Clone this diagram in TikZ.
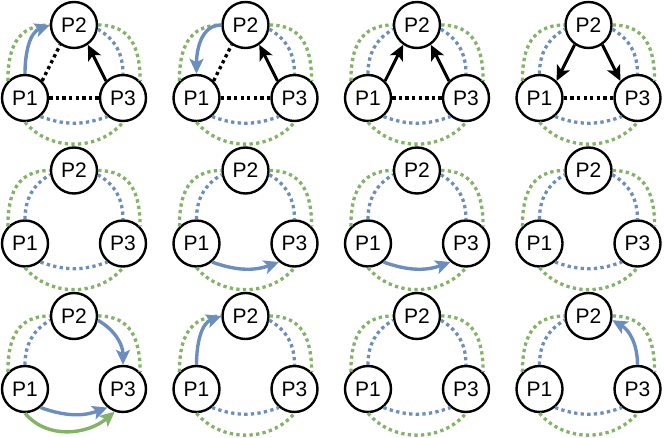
\documentclass[tikz,border=0pt]{standalone}
\usepackage{fontspec}
\setmainfont{Liberation Sans}
\usetikzlibrary{arrows.meta}
\definecolor{blu}{HTML}{6C8EBF}
\definecolor{grn}{HTML}{82B366}
\tikzset{
  proc/.style={circle, draw=black, line width=2.4pt, minimum size=46pt, inner sep=0pt, fill=white, font=\fontsize{21}{21}\selectfont},
  gdot/.style={draw=grn, line width=3.3pt, dash pattern=on 3.3pt off 3.3pt},
  bdot/.style={draw=blu, line width=3.3pt, dash pattern=on 3.3pt off 3.3pt},
  kdot/.style={draw=black, line width=3.3pt, dash pattern=on 3.3pt off 3.3pt},
  karr/.style={draw=black, line width=3pt, -{Stealth[length=15pt,width=14pt,inset=3.5pt]}},
  barr/.style={draw=blu, line width=3.4pt, -{Stealth[length=15pt,width=14pt,inset=3.5pt]}},
  garr/.style={draw=grn, line width=3.4pt, -{Stealth[length=15pt,width=14pt,inset=3.5pt]}},
}
% nodes of one panel
\newcommand\mypanel[3]{%
  \node[proc] (#1a) at (25+#2,98+#3) {P1};
  \node[proc] (#1b) at (74+#2,25+#3) {P2};
  \node[proc] (#1c) at (123+#2,98+#3) {P3};
}
\newcommand\GL[1]{\draw[gdot] (#1a.135) to[out=90,in=180,looseness=1.2] (#1b.west);}
\newcommand\GR[1]{\draw[gdot] (#1b.east) to[out=0,in=90,looseness=1.2] (#1c.45);}
\newcommand\GB[1]{\draw[gdot] (#1a.-90) to[out=-50,in=-130] (#1c.-90);}
\newcommand\BL[1]{\draw[bdot] (#1a.90) to[out=90,in=-150] (#1b.190);}
\newcommand\BR[1]{\draw[bdot] (#1b.-10) to[out=-30,in=90] (#1c.90);}
\newcommand\BB[1]{\draw[bdot] (#1a.-50) to[out=-20,in=-160] (#1c.-130);}
\newcommand\KL[1]{\draw[kdot] (#1a.45) -- (#1b.-125);}
\newcommand\KB[1]{\draw[kdot] (#1a.east) -- (#1c.west);}
\newcommand\GALL[1]{\GL{#1}\GR{#1}\GB{#1}}
\newcommand\BALL[1]{\BL{#1}\BR{#1}\BB{#1}}
\begin{document}
\begin{tikzpicture}[x=1pt,y=-1pt]
\useasboundingbox (0,0) rectangle (664,438);
% ---------- row 1
\mypanel{A}{0}{0}
\mypanel{B}{171.5}{0}
\mypanel{C}{343}{0}
\mypanel{D}{514.5}{0}
% ---------- row 2
\mypanel{E}{0}{145.5}
\mypanel{F}{171.5}{145.5}
\mypanel{G}{343}{145.5}
\mypanel{H}{514.5}{145.5}
% ---------- row 3
\mypanel{I}{0}{291}
\mypanel{J}{171.5}{291}
\mypanel{K}{343}{291}
\mypanel{L}{514.5}{291}
% panel A
\GALL{A}\BR{A}\BB{A}\KL{A}\KB{A}
\draw[karr] (Ac.135) -- (Ab.-55);
\draw[barr] (Aa.90) to[out=90,in=-160] (Ab.west);
% panel B
\GALL{B}\BR{B}\BB{B}\KL{B}\KB{B}
\draw[karr] (Bc.135) -- (Bb.-55);
\draw[barr] (Bb.west) to[out=180,in=90] (Ba.90);
% panel C
\GALL{C}\BALL{C}\KB{C}
\draw[karr] (Ca.45) -- (Cb.-125);
\draw[karr] (Cc.135) -- (Cb.-55);
% panel D
\GALL{D}\BALL{D}\KB{D}
\draw[karr] (Db.-125) -- (Da.45);
\draw[karr] (Db.-55) -- (Dc.135);
% panel E
\GALL{E}\BALL{E}
% panel F
\GALL{F}\BL{F}\BR{F}
\draw[barr] (Fa.-50) to[out=-20,in=-160] (Fc.-130);
% panel G
\GALL{G}\BL{G}\BR{G}
\draw[barr] (Ga.-50) to[out=-20,in=-160] (Gc.-130);
% panel H
\GALL{H}\BALL{H}
% panel I
\GL{I}\GR{I}\BL{I}
\draw[barr] (Ib.-10) to[out=-30,in=90] (Ic.90);
\draw[barr] (Ia.-50) to[out=-20,in=-160] (Ic.-130);
\draw[garr] (Ia.-90) to[out=-50,in=-140] (Ic.-110);
% panel J
\GALL{J}\BR{J}\BB{J}
\draw[barr] (Ja.90) to[out=90,in=-160] (Jb.west);
% panel K
\GALL{K}\BALL{K}
% panel L
\GALL{L}\BL{L}\BB{L}
\draw[barr] (Lc.90) to[out=90,in=-30] (Lb.-10);
\end{tikzpicture}
\end{document}
